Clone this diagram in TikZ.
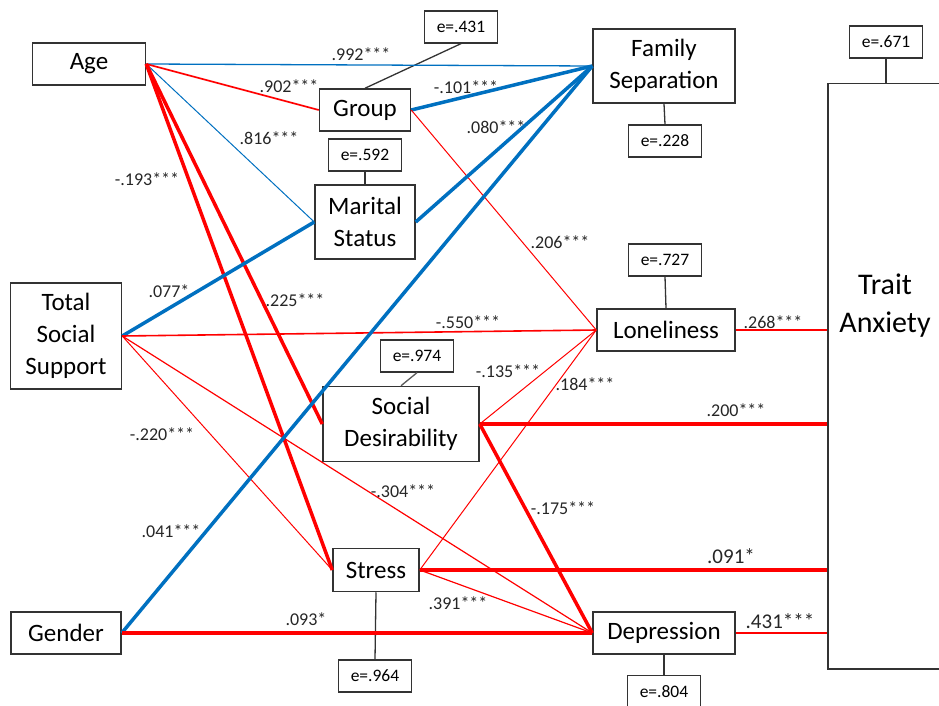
\documentclass[tikz,border=0pt]{standalone}
\usepackage{fontspec}
\setmainfont{Carlito}
\definecolor{pathblue}{RGB}{0,112,192}
\definecolor{pathred}{RGB}{255,0,0}
\begin{document}
\begin{tikzpicture}[x=1pt, y=-1pt,
  box/.style={draw=black!80, line width=1.5pt, fill=white, inner sep=0pt, align=center, font=\fontsize{25}{32}\selectfont},
  ebox/.style={draw=black!80, line width=1.3pt, fill=white, inner sep=0pt, minimum width=73pt, minimum height=32pt, font=\fontsize{17.5}{19}\selectfont},
  lbl/.style={inner sep=0pt, text=black!85, font=\fontsize{18}{20}\selectfont},
  biglbl/.style={lbl, font=\fontsize{21}{23}\selectfont},
  elink/.style={draw=black!80, line width=1.3pt},
  rd/.style={draw=pathred, line width=#1},
  bl/.style={draw=pathblue, line width=#1}]
        \clip (0,0) rectangle (939,706);
        % variables
        \node (age) [box, minimum width=113pt, minimum height=42pt] at (89,64) {Age};
        \node (group) [box, minimum width=91pt, minimum height=42pt] at (365,110) {Group};
        \node (marital) [box, minimum width=100pt, minimum height=74pt] at (365,222) {Marital\\Status};
        \node (family) [box, minimum width=142pt, minimum height=74pt] at (664,66) {Family\\Separation};
        \node (support) [box, minimum width=111pt, minimum height=106pt] at (66,336) {Total\\Social\\Support};
        \node (desir) [box, minimum width=156pt, minimum height=75pt] at (401,424) {Social\\Desirability};
        \node (stress) [box, minimum width=86pt, minimum height=43pt] at (376,570) {Stress};
        \node (gender) [box, minimum width=110pt, minimum height=42pt] at (66,633) {Gender};
        \node (lonely) [box, minimum width=138pt, minimum height=42pt] at (666,330) {Loneliness};
        \node (depress) [box, minimum width=142pt, minimum height=42pt] at (664,633) {Depression};
        \node (trait) [box, minimum width=130pt, minimum height=585pt, anchor=north west] at (827,83) {};
        \node (traittxt) [align=center, inner sep=0pt, font=\fontsize{30}{38}\selectfont] at (885,306) {Trait\\Anxiety};
        % errors
        \node (eGroup) [ebox] at (461,27) {e=.431};
        \node (eMarital) [ebox] at (365,155) {e=.592};
        \node (eFamily) [ebox] at (665,141) {e=.228};
        \node (eTrait) [ebox] at (886,42) {e=.671};
        \node (eLonely) [ebox] at (665,260) {e=.727};
        \node (eDesir) [ebox] at (417,356) {e=.974};
        \node (eStress) [ebox] at (375,676) {e=.964};
        \node (eDepress) [ebox, minimum height=33pt] at (664,692) {e=.804};
        \draw [elink] (eGroup.south) -- (group.north);
        \draw [elink] (eMarital.south) -- (marital.north);
        \draw [elink] (family.south) -- (eFamily.north);
        \draw [elink] (eTrait.south) -- (eTrait.south |- trait.north);
        \draw [elink] (eLonely.south) -- (lonely.north);
        \draw [elink, draw=black!65] (eDesir.south) -- (desir.north);
        \draw [elink] (stress.south) -- (eStress.north);
        \draw [elink] (depress.south) -- (eDepress.north);
        % paths
        \draw [bl=1.3pt] (age.east) -- (family.west);
        \draw [rd=1.7pt] (age.east) -- (group.west);
        \draw [bl=1pt] (age.east) -- (marital.west);
        \draw [rd=3.5pt] (age.east) -- (desir.west);
        \draw [rd=3.5pt] (age.east) -- (stress.west);
        \draw [bl=3.5pt] (group.east) -- (family.west);
        \draw [rd=1pt] (group.east) -- (lonely.west);
        \draw [bl=3.5pt] (marital.east) -- (family.west);
        \draw [bl=3.5pt] (support.east) -- (marital.west);
        \draw [rd=1.6pt] (support.east) -- (lonely.west);
        \draw [rd=1pt] (support.east) -- (stress.west);
        \draw [rd=1.2pt] (support.east) -- (depress.west);
        \draw [bl=3.5pt] (gender.east) -- (family.west);
        \draw [rd=4pt] (gender.east) -- (depress.west);
        \draw [rd=1pt] (desir.east) -- (lonely.west);
        \draw [rd=4pt] (desir.east) -- (desir.east -| trait.west);
        \draw [rd=3.5pt] (desir.east) -- (depress.west);
        \draw [rd=1pt] (stress.east) -- (lonely.west);
        \draw [rd=4pt] (stress.east) -- (stress.east -| trait.west);
        \draw [rd=1.2pt] (stress.east) -- (depress.west);
        \draw [rd=1.5pt] (lonely.east) -- (lonely.east -| trait.west);
        \draw [rd=1.5pt] (depress.east) -- (depress.east -| trait.west);
        % coefficients
        \node (l992) [lbl] at (361,54) {.992***};
        \node (l902) [lbl] at (289,86) {.902***};
        \node (l816) [lbl] at (269,138) {.816***};
        \node (l193) [lbl] at (147,179) {-.193***};
        \node (l101) [lbl] at (466,87) {-.101***};
        \node (l080) [lbl] at (496,127) {.080***};
        \node (l206) [lbl] at (560,242) {.206***};
        \node (l077) [lbl] at (169,291) {.077*};
        \node (l225) [lbl] at (295,300) {.225***};
        \node (l550) [lbl] at (468,322) {-.550***};
        \node (l220) [lbl] at (162,434) {-.220***};
        \node (l135) [lbl] at (508,371) {-.135***};
        \node (l184) [lbl] at (585,384) {.184***};
        \node (l268) [lbl] at (773,322) {.268***};
        \node (l200) [lbl] at (736,410) {.200***};
        \node (l304) [lbl] at (403,491) {-.304***};
        \node (l041) [lbl] at (171,531) {.041***};
        \node (l093) [lbl] at (306,619) {.093*};
        \node (l391) [lbl] at (458,603) {.391***};
        \node (l175) [lbl] at (563,508) {-.175***};
        \node (l091) [biglbl] at (731,556) {.091*};
        \node (l431) [biglbl] at (780,621) {.431***};
    \end{tikzpicture}
\end{document}
